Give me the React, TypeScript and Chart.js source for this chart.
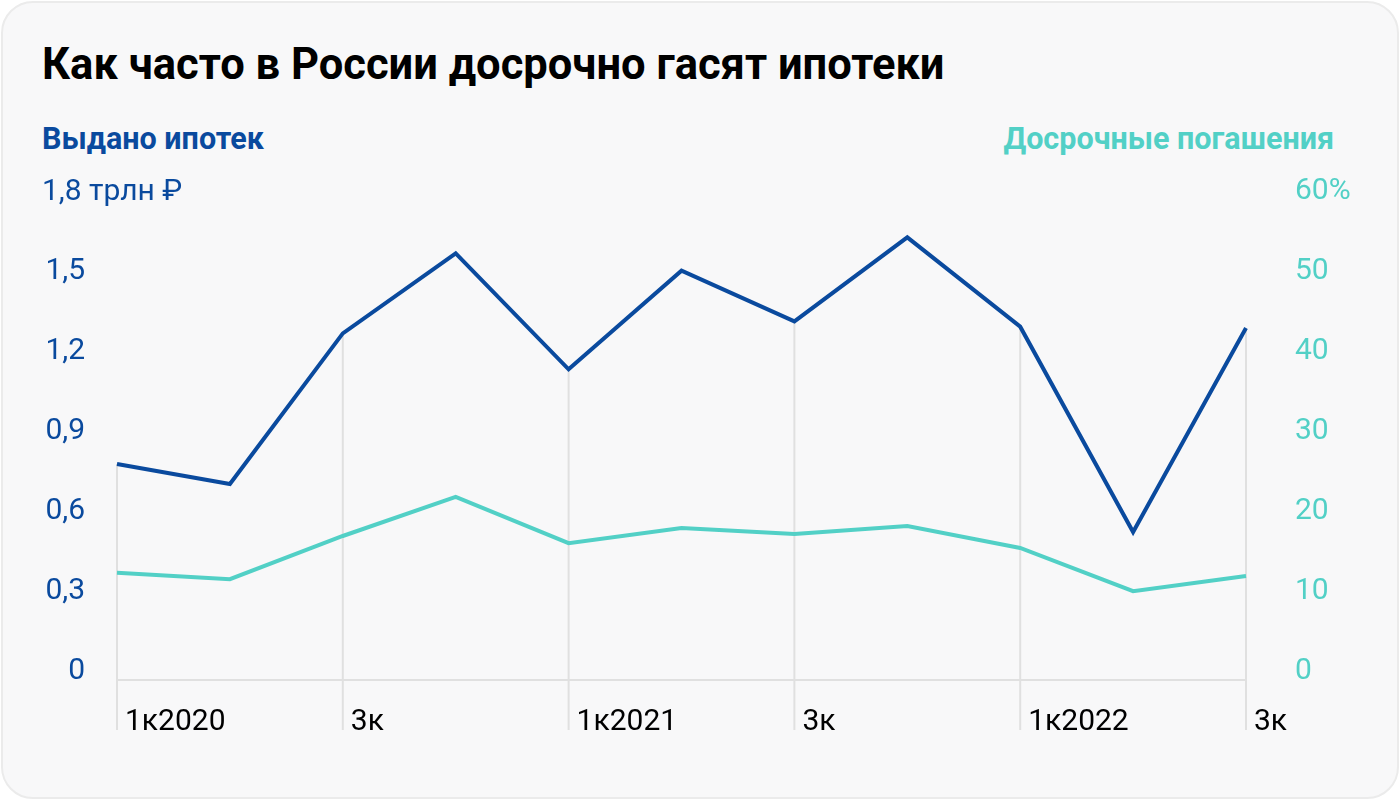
import React, { useEffect, useRef } from "react";
import { Chart, registerables } from "chart.js";

Chart.register(...registerables);

const categories = ["1к2020", "2к2020", "3к2020", "4к2020", "1к2021", "2к2021", "3к2021", "4к2021", "1к2022", "2к2022", "3к2022"];
const tickLabels = ["1к2020", "", "3к", "", "1к2021", "", "3к", "", "1к2022", "", "3к"];
const issuedTrln = [0.81, 0.735, 1.3, 1.6, 1.165, 1.535, 1.345, 1.66, 1.325, 0.555, 1.32];
const earlyRepaymentPct = [13.4, 12.6, 18, 22.9, 17.1, 19, 18.25, 19.25, 16.5, 11.1, 13];
const leftTicks = [0, 0.3, 0.6, 0.9, 1.2, 1.5, 1.8];
const rightTicks = [0, 10, 20, 30, 40, 50, 60];
const leftTopLabel = "1,8 трлн ₽";

const BLUE = "#0a4a9e";
const TEAL = "#52d0c6";
const GRID = "#e0e0e0";
const FONT = "Roboto, 'Noto Sans', sans-serif";
const TICK_SIZE = 30;

export default function App() {
  const ref = useRef<HTMLCanvasElement | null>(null);

  useEffect(() => {
    document.body.style.margin = "0";
    const canvas = ref.current;
    if (!canvas) return;

    const extras = {
      id: "extras",
      beforeDatasetsDraw(chart: any) {
        const ctx = chart.ctx;
        const xs = chart.scales.x;
        const yl = chart.scales.yLeft;
        ctx.save();
        ctx.strokeStyle = GRID;
        ctx.lineWidth = 2;
        tickLabels.forEach((lab, i) => {
          if (!lab) return;
          const x = xs.getPixelForValue(i);
          const y = yl.getPixelForValue(issuedTrln[i]);
          ctx.beginPath();
          ctx.moveTo(x, y);
          ctx.lineTo(x, chart.chartArea.bottom + 50);
          ctx.stroke();
        });
        ctx.restore();
      },
      afterDraw(chart: any) {
        const ctx = chart.ctx;
        const yl = chart.scales.yLeft;
        ctx.save();
        ctx.font = `${TICK_SIZE}px ${FONT}`;
        ctx.fillStyle = BLUE;
        ctx.textAlign = "left";
        ctx.textBaseline = "alphabetic";
        ctx.fillText(leftTopLabel, 42, yl.getPixelForValue(leftTicks[leftTicks.length - 1]));
        ctx.restore();
      },
    };

    const chart = new Chart(canvas, {
      type: "line",
      data: {
        labels: categories,
        datasets: [
          {
            label: "Выдано ипотек",
            data: issuedTrln,
            borderColor: BLUE,
            borderWidth: 4,
            pointRadius: 0,
            borderJoinStyle: "miter",
            tension: 0,
            yAxisID: "yLeft",
          },
          {
            label: "Досрочные погашения",
            data: earlyRepaymentPct,
            borderColor: TEAL,
            borderWidth: 4,
            pointRadius: 0,
            borderJoinStyle: "miter",
            tension: 0,
            yAxisID: "yRight",
          },
        ],
      },
      options: {
        animation: false,
        responsive: false,
        maintainAspectRatio: false,
        layout: { padding: { top: 200, left: 0, right: 0, bottom: 0 } },
        plugins: { legend: { display: false }, tooltip: { enabled: false } },
        scales: {
          x: {
            grid: { display: false, drawTicks: false },
            border: { display: true, color: GRID, width: 2 },
            ticks: {
              autoSkip: false,
              maxRotation: 0,
              align: "start",
              labelOffset: 8,
              padding: 24,
              color: "#000",
              font: { family: FONT, size: TICK_SIZE },
              callback: (_v: any, i: number) => tickLabels[i],
            },
            afterFit: (s: any) => {
              s.height = 120;
            },
          },
          yLeft: {
            position: "left",
            min: 0,
            max: 1.8,
            grid: { display: false, drawTicks: false },
            border: { display: false },
            afterBuildTicks: (s: any) => {
              s.ticks = leftTicks.map((v) => ({ value: v }));
            },
            ticks: {
              padding: 32,
              labelOffset: -9,
              color: BLUE,
              font: { family: FONT, size: TICK_SIZE },
              callback: (v: any) => (v === leftTicks[leftTicks.length - 1] ? "" : String(v).replace(".", ",")),
            },
            afterFit: (s: any) => {
              s.width = 117;
            },
          },
          yRight: {
            position: "right",
            min: 0,
            max: 60,
            grid: { display: false, drawTicks: false },
            border: { display: false },
            afterBuildTicks: (s: any) => {
              s.ticks = rightTicks.map((v) => ({ value: v }));
            },
            ticks: {
              padding: 49,
              labelOffset: -9,
              color: TEAL,
              font: { family: FONT, size: TICK_SIZE },
              callback: (v: any) => (v === rightTicks[rightTicks.length - 1] ? `${v}%` : String(v)),
            },
            afterFit: (s: any) => {
              s.width = 154;
            },
          },
        },
      },
      plugins: [extras],
    });
    return () => chart.destroy();
  }, []);

  return (
    <div style={{ position: "relative", width: 1400, height: 800, background: "#fff", overflow: "hidden", fontFamily: FONT }}>
      <div
        style={{
          position: "absolute",
          left: 1,
          top: 1,
          width: 1398,
          height: 798,
          boxSizing: "border-box",
          border: "2px solid #ebebeb",
          borderRadius: 32,
          background: "#f8f8f9",
        }}
      />
      <div style={{ position: "absolute", left: 42, top: 39, fontSize: 43.5, lineHeight: "52px", fontWeight: 700, color: "#000", whiteSpace: "nowrap" }}>
        Как часто в России досрочно гасят ипотеки
      </div>
      <div style={{ position: "absolute", left: 42, top: 121, fontSize: 30.5, lineHeight: "36px", fontWeight: 700, color: BLUE, whiteSpace: "nowrap" }}>
        Выдано ипотек
      </div>
      <div style={{ position: "absolute", right: 1400 - 1334, top: 121, fontSize: 30.5, lineHeight: "36px", fontWeight: 700, color: TEAL, whiteSpace: "nowrap" }}>
        Досрочные погашения
      </div>
      <canvas ref={ref} width={1400} height={800} style={{ position: "absolute", left: 0, top: 0, width: 1400, height: 800 }} />
    </div>
  );
}
